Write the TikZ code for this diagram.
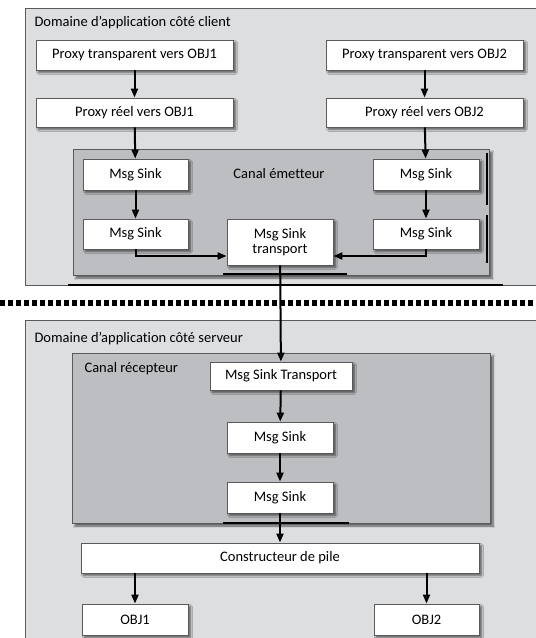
\documentclass[tikz,border=0pt]{standalone}
\usepackage{fontspec}
\setmainfont{Carlito}[Ligatures=NoCommon]
\usepackage{tikz}
\usetikzlibrary{arrows.meta,shadows.blur}
\definecolor{domaingray}{RGB}{221,222,224}
\definecolor{canalgray}{RGB}{189,190,193}
\definecolor{edgegray}{RGB}{90,90,90}
\tikzset{
    msgbox/.style={
            draw=edgegray, fill=white, line width=0.9pt,
            minimum height=30pt, inner sep=0pt, align=center,
            blur shadow={shadow xshift=2.5pt, shadow yshift=-2.5pt, shadow blur steps=6, shadow opacity=60}
        },
    domainbox/.style={draw=edgegray, fill=domaingray, line width=0.9pt},
    canalbox/.style={draw=edgegray, fill=canalgray, line width=0.9pt,
            blur shadow={shadow xshift=3pt, shadow yshift=-3pt, shadow blur steps=6, shadow opacity=60}},
    flow/.style={-{Triangle[length=9pt,width=7pt]}, line width=2pt},
}

\begin{document}
\begin{tikzpicture}[x=1pt, y=-1pt, font=\fontsize{14.5}{15}\selectfont]
        \useasboundingbox (0, 0) rectangle (536, 638);
        %draw client domain
        \draw[domainbox] (25, 8) rectangle (545, 285);
        \node[anchor=west] (clienttitle) at (31, 23) {Domaine d’application côté client};
        \node[msgbox, minimum width=197pt] (pt1) at (134.5, 55) {Proxy transparent vers OBJ1};
        \node[msgbox, minimum width=197pt] (pt2) at (424.5, 55) {Proxy transparent vers OBJ2};
        \node[msgbox, minimum width=197pt, minimum height=29pt] (pr1) at (134.5, 112.5) {Proxy réel vers OBJ1};
        \node[msgbox, minimum width=197pt, minimum height=29pt] (pr2) at (424.5, 112.5) {Proxy réel vers OBJ2};
        %draw emitting channel
        \draw[canalbox] (73, 149) rectangle (489, 275);
        \draw[line width=1.6pt] (487, 153) -- (487, 205);
        \draw[line width=1.6pt] (487, 215) -- (487, 263);
        \node (emetteur) at (279, 174) {Canal émetteur};
        \node[msgbox, minimum width=105pt, minimum height=31pt] (ms1) at (135.5, 174.5) {Msg Sink};
        \node[msgbox, minimum width=105pt] (ms2) at (135.5, 234) {Msg Sink};
        \node[msgbox, minimum width=106pt, minimum height=31pt] (ms3) at (426, 174.5) {Msg Sink};
        \node[msgbox, minimum width=106pt] (ms4) at (426, 234) {Msg Sink};
        \node[msgbox, minimum width=106pt, minimum height=46pt] (transport) at (280, 242) {Msg Sink\\transport};
        \draw[line width=1.6pt] (223, 274) -- (347, 274);
        \draw[line width=2pt] (68, 285) -- (503, 285);
        %draw client arrows
        \draw[flow] (pt1) -- (pr1);
        \draw[flow] (pt2) -- (pr2);
        \draw[flow] (pr1) -- (ms1);
        \draw[flow] (pr2) -- (ms3);
        \draw[flow] (ms1) -- (ms2);
        \draw[flow] (ms3) -- (ms4);
        \draw[flow] (ms2.south) |- ([yshift=-14pt]transport.west);
        \draw[flow] (ms4.south) |- ([yshift=-14pt]transport.east);
        %draw process boundary
        \draw[line width=6pt, dash pattern=on 4.5pt off 3.5pt] (0, 303) -- (536, 303);
        %draw server domain
        \draw[domainbox] (25, 320) rectangle (545, 650);
        \node[anchor=west] (servertitle) at (31, 339) {Domaine d’application côté serveur};
        %draw receiving channel
        \draw[canalbox] (72, 353) rectangle (490, 523);
        \node[anchor=west] (recepteur) at (81, 369) {Canal récepteur};
        \node[msgbox, minimum width=142pt, minimum height=28pt] (mst) at (281, 376) {Msg Sink Transport};
        \node[msgbox, minimum width=106pt, minimum height=31pt] (msa) at (280, 437.5) {Msg Sink};
        \node[msgbox, minimum width=106pt, minimum height=31pt] (msb) at (280, 497.5) {Msg Sink};
        \draw[line width=1.6pt] (223, 523) -- (349, 523);
        \node[msgbox, minimum width=398pt] (pile) at (280, 558) {Constructeur de pile};
        \node[msgbox, minimum width=106pt, minimum height=31pt] (obj1) at (135, 619.5) {OBJ1};
        \node[msgbox, minimum width=105pt, minimum height=31pt] (obj2) at (426.5, 619.5) {OBJ2};
        %draw server arrows
        \draw[flow] (transport) -- (mst);
        \draw[flow] (mst) -- (msa);
        \draw[flow] (msa) -- (msb);
        \draw[flow] (msb) -- (pile);
        \draw[flow] (obj1.north |- pile.south) -- (obj1);
        \draw[flow] (obj2.north |- pile.south) -- (obj2);
    \end{tikzpicture}
\end{document}
